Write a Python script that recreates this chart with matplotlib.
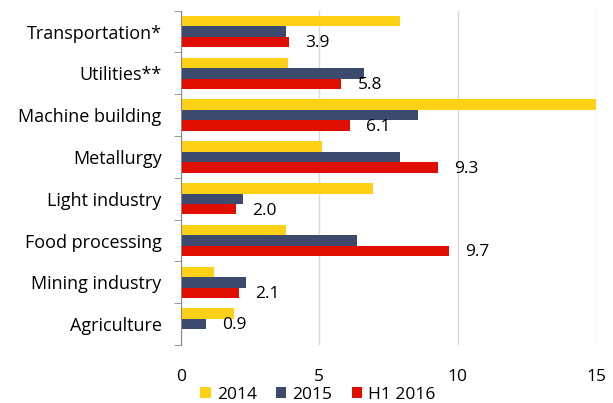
import numpy as np
import matplotlib.pyplot as plt

plt.rcParams['font.family'] = ['Open Sans', 'DejaVu Sans']

# categories bottom -> top
categories = ["Agriculture", "Mining industry", "Food processing", "Light industry",
              "Metallurgy", "Machine building", "Utilities**", "Transportation*"]
v2014 = [1.9, 1.2, 3.8, 6.95, 5.1, 21.0, 3.85, 7.9]
v2015 = [0.9, 2.35, 6.35, 2.25, 7.9, 8.55, 6.6, 3.8]
vh1_2016 = [np.nan, 2.1, 9.7, 2.0, 9.3, 6.1, 5.8, 3.9]
# data labels: (value shown, series it sits on)
label_vals = [0.9, 2.1, 9.7, 2.0, 9.3, 6.1, 5.8, 3.9]
label_series = ["2015", "H1 2016", "H1 2016", "H1 2016", "H1 2016", "H1 2016", "H1 2016", "H1 2016"]

colors = {"2014": "#FCD116", "2015": "#3C4A6E", "H1 2016": "#E00E00"}
offsets = {"2014": 0.25, "2015": 0.0, "H1 2016": -0.25}

fig = plt.figure(figsize=(6.13, 4.03), dpi=100)
ax = fig.add_axes([181/613, 1-345/403, 415/613, (345-10.7)/403])

y = np.arange(len(categories))
h = 0.25
series = {"2014": v2014, "2015": v2015, "H1 2016": vh1_2016}
for name, vals in series.items():
    ax.barh(y + offsets[name], vals, height=h, color=colors[name], label=name, zorder=3)

for i, (val, s) in enumerate(zip(label_vals, label_series)):
    ax.annotate(f"{val:.1f}", (val, i + offsets[s]), xytext=(11.5, -1),
                textcoords="offset points", ha="left", va="center", fontsize=12.5,
                color="black")

ax.set_xlim(0, 15)
ax.set_ylim(-0.5, len(categories) - 0.5)
ax.set_xticks([0, 5, 10, 15])
ax.set_yticks(y)
ax.set_yticklabels(categories, fontsize=13)
ax.set_yticks(np.arange(-0.5, len(categories), 1), minor=True)
ax.tick_params(axis="y", which="major", length=0, pad=14)
ax.tick_params(axis="y", which="minor", length=5, color="#888888", direction="out")
ax.tick_params(axis="x", length=0, pad=17, labelsize=12.5)
ax.grid(axis="x", color="#D9D9D9", linewidth=1, zorder=0)

for sp in ["top", "right", "bottom"]:
    ax.spines[sp].set_visible(False)
ax.spines["left"].set_color("#888888")
ax.spines["left"].set_zorder(4)

ax.legend(loc="center", bbox_to_anchor=(318/613, 1-395/403), ncol=3, frameon=False,
          fontsize=12.5, handlelength=0.6, handleheight=0.6, handletextpad=0.35,
          columnspacing=1.1, bbox_transform=fig.transFigure, borderaxespad=0.0,
          borderpad=0.0)

fig.savefig("out.png", dpi=100)
